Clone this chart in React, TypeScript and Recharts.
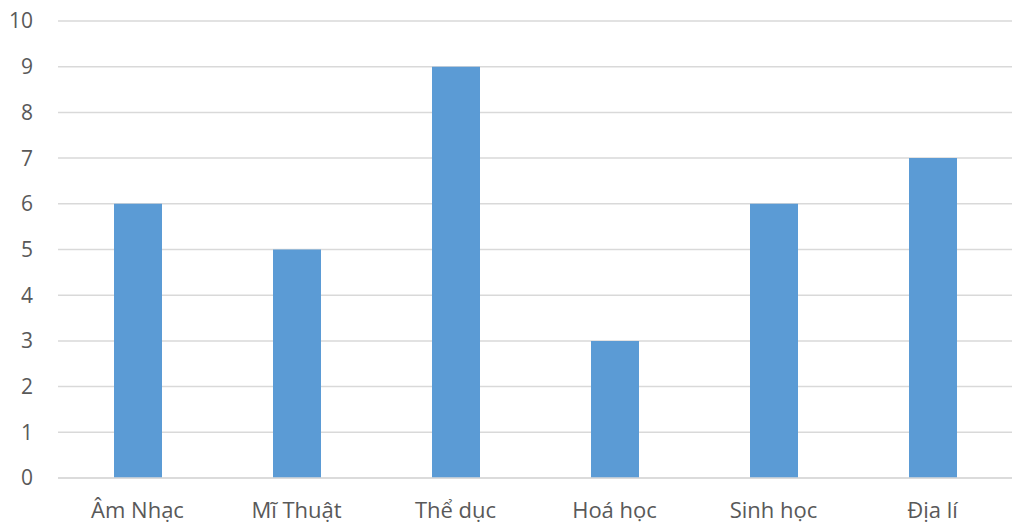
import React from "react";
import { BarChart, Bar, XAxis, YAxis, CartesianGrid } from "recharts";

const categories = ["Âm Nhạc", "Mĩ Thuật", "Thể dục", "Hoá học", "Sinh học", "Địa lí"];
const values = [6, 5, 9, 3, 6, 7];
const yTicks = [0, 1, 2, 3, 4, 5, 6, 7, 8, 9, 10];

const data = categories.map((name, i) => ({ name, value: values[i] }));

const font = "'Open Sans', sans-serif";

export default function App() {
  return (
    <div style={{ position: "absolute", left: 0, top: 0, width: 1024, height: 530, background: "#fff" }}>
      <BarChart
        width={1024}
        height={530}
        data={data}
        margin={{ top: 21, right: 12, bottom: 0, left: 0 }}
        barCategoryGap="70%"
      >
        <CartesianGrid vertical={false} stroke="#d9d9d9" strokeWidth={1.5} />
        <XAxis
          dataKey="name"
          height={52}
          axisLine={{ stroke: "#d9d9d9", strokeWidth: 1.5 }}
          tickLine={false}
          tickSize={0}
          tickMargin={24}
          tick={{ fill: "#595959", fontSize: 22, fontFamily: font }}
          interval={0}
        />
        <YAxis
          width={58}
          domain={[0, 10]}
          ticks={yTicks}
          interval={0}
          axisLine={false}
          tickLine={false}
          tickSize={0}
          tickMargin={25}
          tick={{ fill: "#595959", fontSize: 21, fontFamily: font }}
        />
        <Bar dataKey="value" fill="#5b9bd5" barSize={48} isAnimationActive={false} />
      </BarChart>
    </div>
  );
}
